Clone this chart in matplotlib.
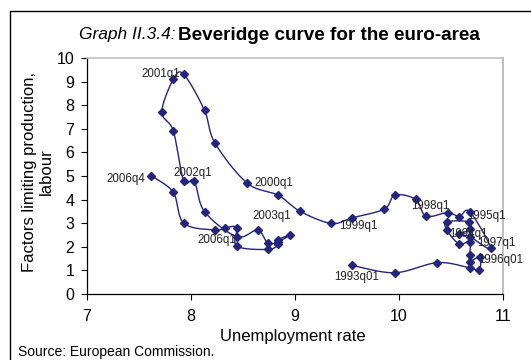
import numpy as np
import matplotlib
matplotlib.use("Agg")
from matplotlib import pyplot as plt
from matplotlib.patches import Rectangle

plt.rcParams['font.family'] = ['Liberation Sans', 'DejaVu Sans']

# unemployment rate, 1993q1 .. 2006q4
unemployment = [9.55, 9.96, 10.37, 10.68, 10.77, 10.78, 10.68, 10.68,
                10.68, 10.58, 10.46, 10.46, 10.67, 10.68, 10.58, 10.68,
                10.88, 10.68, 10.58, 10.47, 10.26, 10.16, 9.96, 9.86,
                9.55, 9.35, 9.05, 8.84, 8.54, 8.23, 8.13, 7.93,
                7.83, 7.72, 7.83, 7.93, 8.03, 8.13, 8.44, 8.64,
                8.74, 8.84, 8.95, 8.84, 8.84, 8.74, 8.44, 8.44,
                8.33, 8.23, 7.93, 7.83, 7.62]
# factors limiting production: labour
labour = [1.21, 0.90, 1.33, 1.11, 1.02, 1.58, 1.37, 1.65,
          2.22, 2.11, 2.71, 3.06, 3.06, 2.74, 2.53, 2.43,
          1.94, 3.49, 3.28, 3.45, 3.30, 4.01, 4.19, 3.60,
          3.23, 2.99, 3.50, 4.18, 4.70, 6.40, 7.78, 9.31,
          9.10, 7.71, 6.91, 4.79, 4.80, 3.49, 2.43, 2.71,
          2.15, 2.22, 2.50, 2.30, 2.10, 1.89, 2.03, 2.81,
          2.80, 2.71, 3.00, 4.31, 5.00]

point_labels = ['2001q1', '2006q4', '2002q1', '2006q1', '2000q1', '2003q1',
                '1999q1', '1993q01', '1998q1', '1995q1', '1994q1', '1997q1', '1996q01']
label_x = [7.71, 7.37, 8.02, 8.25, 8.80, 8.78, 9.61, 9.59, 10.30, 10.84, 10.67, 10.94, 10.98]
label_y = [9.32, 4.86, 5.11, 2.29, 4.70, 3.29, 2.89, 0.72, 3.73, 3.31, 2.54, 2.15, 1.44]

W, H = 531, 360
NAVY = '#24247f'


def smooth(x, y, sx, sy, n=20):
    # Excel style smoothed line (Catmull-Rom), done in screen-like units
    p = np.column_stack([np.asarray(x) * sx, np.asarray(y) * sy])
    p = np.vstack([p[0], p, p[-1]])
    out = []
    for i in range(1, len(p) - 2):
        p0, p1, p2, p3 = p[i - 1], p[i], p[i + 1], p[i + 2]
        c1 = p1 + (p2 - p0) / 6
        c2 = p2 - (p3 - p1) / 6
        t = np.linspace(0, 1, n)[:, None]
        seg = ((1 - t) ** 3) * p1 + 3 * ((1 - t) ** 2) * t * c1 + 3 * (1 - t) * t ** 2 * c2 + t ** 3 * p2
        out.append(seg if i == 1 else seg[1:])
    out = np.vstack(out)
    return out[:, 0] / sx, out[:, 1] / sy


fig = plt.figure(figsize=(W / 100, H / 100), dpi=100)
ax = fig.add_axes([87 / W, 1 - 294 / H, (503 - 87) / W, (294 - 58) / H])

sx_, sy_ = smooth(unemployment, labour, 104, 23.6)
ax.plot(sx_, sy_, color=NAVY, lw=1.0, zorder=2)
ax.plot(unemployment, labour, ls='none', marker='D', ms=4, color=NAVY, zorder=3)

for t, lx, ly in zip(point_labels, label_x, label_y):
    ax.text(lx, ly, t, fontsize=8.3, color='#222222', ha='center', va='center', clip_on=False, zorder=4)

ax.set_xlim(7, 11)
ax.set_ylim(0, 10)
ax.set_xticks([7, 8, 9, 10, 11])
ax.set_yticks(range(0, 11))
ax.tick_params(axis='both', labelsize=11.5, length=4, width=0.8, color='black', direction='out')
ax.tick_params(axis='x', pad=7)
ax.tick_params(axis='y', pad=5)
ax.spines['top'].set_color('#c0c0c0')
ax.spines['right'].set_color('#c0c0c0')
ax.spines['top'].set_linewidth(1.2)
ax.spines['right'].set_linewidth(1.5)
ax.spines['left'].set_linewidth(0.9)
ax.spines['bottom'].set_linewidth(0.9)

fig.text(293 / W, 1 - 337 / H, 'Unemployment rate', fontsize=12, ha='center', va='center')
fig.text(38 / W, 1 - 172 / H, 'Factors limiting production,\nlabour', fontsize=12,
         ha='center', va='center', rotation=90, linespacing=1.2)

fig.text(176 / W, 1 - 35 / H, 'Graph II.3.4:', fontsize=12.5, style='italic', ha='right', va='center')
fig.text(178 / W, 1 - 35 / H, 'Beveridge curve for the euro-area', fontsize=13.6,
         fontweight='bold', ha='left', va='center')
fig.text(18 / W, 1 - 352 / H, 'Source: European Commission.', fontsize=10, ha='left', va='center')

fig.patches.append(Rectangle((10 / W, -0.1), 1.2, 1 - 11 / H + 0.1, transform=fig.transFigure,
                             fill=False, edgecolor='black', lw=1.0))

fig.savefig('out.png', dpi=100)
